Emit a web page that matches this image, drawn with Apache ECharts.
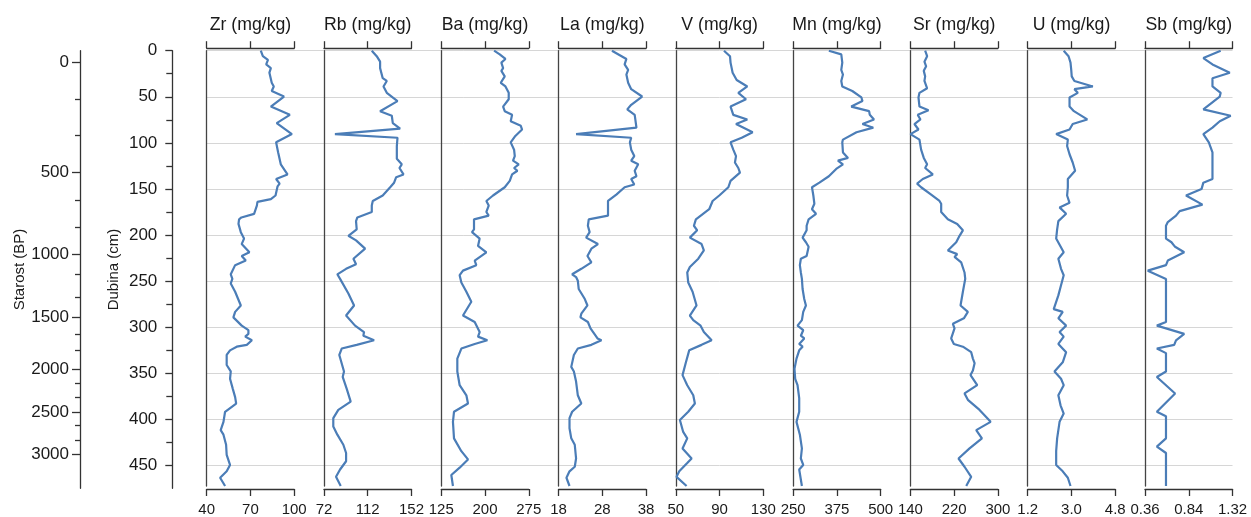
<!DOCTYPE html>
<html><head><meta charset="utf-8">
<script src="https://cdn.jsdelivr.net/npm/echarts@6/dist/echarts.min.js"></script>
<style>html,body{margin:0;padding:0;background:#fff}#c{width:1251px;height:517px}</style>
</head><body><div id="c"></div>
<script>
// ---- data ----
const elements = ['Zr','Rb','Ba','La','V','Mn','Sr','U','Sb'];
const axisTicks = [[40,70,100],[72,112,152],[125,200,275],[18,28,38],[50,90,130],[250,375,500],[140,220,300],[1.2,3.0,4.8],[0.36,0.84,1.32]];
const tickLabels = [['40','70','100'],['72','112','152'],['125','200','275'],['18','28','38'],['50','90','130'],['250','375','500'],['140','220','300'],['1.2','3.0','4.8'],['0.36','0.84','1.32']];
const depthLabels = [0,50,100,150,200,250,300,350,400,450];
const depthMinor = [25,75,125,175,225,275,325,375,425];
const ageLabels = ['0','500','1000','1500','2000','2500','3000'];
const ageDepths = [12.6,132,220.8,288.9,345.7,392.1,438];
const ageMinorDepths = [52.5,92.3,162.2,191.8,242.5,267.8,307.7,325,360.6,375.8,406.5,422.8];

const zrDepth = [0,6,10,15,19,24,35,39,44,50,61,70,79,91,100,111,124,135,140,145,148,158,162,165,169,178,182,184,189,198,205,211,220,224,229,234,244,249,254,263,278,285,291,300,305,309,312,316,321,323,327,332,343,350,358,369,378,385,394,405,414,419,430,441,452,459,466,475];
const zrValue = [77.1,78.5,82,80.8,84,83,84.6,86,84.6,93,84,97,88,98.4,87.6,89,90.8,95.4,87.6,90,88.6,87.2,84,74.8,74.4,72.5,63.8,62.2,61.8,63.4,65.6,64,69.3,64,66.8,59.5,56.5,57.6,56.5,59.5,63.4,59.5,58.3,64,68.6,68.6,66.4,71,67.5,60.6,56,53.7,53.7,56.5,56,57.9,59.5,60.2,52.6,51.5,49.6,51.5,53.3,53.7,56,53.7,49.2,52.6];
const rbDepth = [0,6,12,19,30,33,39,46,55,66,71,79,85,91,95,104,118,124,128,135,138,144,149,158,164,169,176,182,186,195,202,207,216,227,233,238,244,249,265,278,289,300,307,311,316,321,325,332,350,356,369,383,392,401,410,419,430,439,448,457,465,475];
const rbValue = [115.7,120.2,123.3,123.3,125.7,129.4,126.4,129.4,139.2,123.3,134,134.9,141.6,82,139.2,138.6,138.6,143.1,141,144.7,138,136.1,132.5,125.7,116.6,115.7,115.7,102.5,101.3,101.9,94.3,101.3,109.6,98.9,101.3,92.2,84.2,86.7,94.3,99.5,92.2,100.4,108.6,108,117.8,101.9,88.2,86,90.3,89.1,92.8,96.4,85.1,80.5,80.5,84.2,89.7,92.2,92.2,86.7,83,87.3];
const baDepth = [0,4,9,13,19,22,28,35,39,46,53,61,66,70,77,82,86,93,100,108,115,120,124,128,131,135,142,149,158,164,169,176,180,184,195,198,205,213,220,229,234,240,245,253,263,274,289,296,307,312,316,320,325,336,350,365,376,385,394,405,423,437,446,455,463,475];
const baValue = [215.5,225.2,235,228,231,228,233.8,227,235,240.6,240.6,231,233.8,246.4,244,261.3,263.5,252,244,249.8,251,248,257.8,249.8,255.5,246.4,242.4,233.8,213.7,202.3,206.3,202.3,206.3,181.1,181.1,177.7,190.8,188,202.3,182.3,185,162.2,156.5,159.4,168,176.5,162.2,182.3,190.8,188,204,182.3,159.4,152.5,152.5,156.5,168,170.8,146.8,145,146.8,159.4,170.8,156.5,142.2,145];
const laDepth = [0,6,9,15,21,26,35,42,50,59,64,70,84,91,95,100,108,115,120,124,131,137,140,146,149,157,164,171,180,184,191,198,204,211,216,224,231,238,244,247,251,260,271,278,287,291,296,303,314,316,321,325,332,345,350,361,376,385,394,401,412,423,430,445,454,459,466,475];
const laValue = [30.2,32.4,33.5,33.1,33.9,33.5,33.9,34.6,37.1,34.6,33.7,35.4,35.8,22,34.6,34.3,34.6,35.3,34.6,36.2,35.4,35.8,34.6,35.3,33.1,31.2,29.3,29.3,29.3,24.9,24.7,25.1,24.3,27,25.5,24.6,25.5,23.2,21.1,22,22.4,22.6,24,24.6,23.2,23,24.7,25.3,26.9,27.8,25.5,22.4,21.5,20.9,21.5,22,22.4,23.2,21.1,20.5,20.5,20.9,21.7,22,21.7,20.5,19.8,20.5];
const vDepth = [0,6,13,24,32,39,46,53,61,70,75,80,89,95,100,108,115,122,128,133,142,149,158,164,173,184,191,196,204,211,218,227,236,242,253,263,278,289,294,300,307,316,321,327,340,354,365,376,385,394,403,416,423,434,445,450,459,465,475];
const vValue = [94,99.5,100,101.9,105.6,115.3,107.1,114.1,100,102.5,115.3,105,120.2,110.2,100,102.5,105,104,107.1,108.6,100,98,89.7,83.6,80.5,68.3,66.5,69.5,62.8,73.5,75.6,70.5,62.8,60.4,61.3,65.3,68.9,62.8,65.9,72.6,75.6,82.7,73.5,62.2,59.2,56.1,60.4,65.9,67.4,61.3,53.7,56.7,60.4,56.1,64.4,60.4,53.1,50.6,59.8];
const mnDepth = [0,4,13,21,26,33,39,44,51,55,61,66,70,75,80,84,89,97,100,111,117,120,124,129,137,144,149,158,167,173,178,184,191,196,204,209,214,224,227,234,242,249,260,271,278,285,294,300,305,311,314,320,323,327,336,347,358,365,379,394,405,419,434,445,452,457,475];
const mnValue = [352,387.5,390.4,387.5,392.3,387.5,390.4,419,445,448,416,467,469,481,448,479,431,392.3,390.4,392.3,406.7,377.9,392.3,373,352,325,303.8,307.7,310.6,303.8,315.4,294.2,288.5,288.5,277,286.5,294.2,288.5,272,269.2,272,275,277,281.7,286.5,278.8,275,262.5,278.8,272,281.7,267.3,277,267.3,259.6,253.8,255.8,262.5,267.3,267.3,259.6,269.2,275,272,278.8,267.3,275];
const srDepth = [0,6,12,17,22,28,33,41,46,51,61,65,70,75,80,86,91,97,108,117,124,128,135,140,145,149,157,164,167,176,184,189,196,202,209,218,222,225,231,242,249,263,278,285,292,298,303,314,320,323,329,336,341,349,354,365,374,381,392,405,414,423,434,445,454,465,475];
const srValue = [166.9,170.5,165.6,168.7,164.4,166.9,165.6,170.5,156.5,154.7,156.5,173,153.4,158.3,147.3,154.7,140,156.5,159.5,164.4,170.5,166.9,180.9,162.6,152.2,159.5,177.9,193.1,196.2,196.2,208.4,225.5,235.9,229.8,223.7,208.4,225.5,220.6,232.8,238.9,240.2,235.9,231.6,245,237.7,217.6,220.6,214.5,219.4,235.9,251.1,254.2,257.3,254.2,249.9,262.1,238.9,245,266.4,286.6,260.3,270.7,248.1,227.9,238.9,251.1,242];
const uDepth = [0,6,13,21,28,33,39,42,46,51,61,66,75,80,86,91,97,104,113,122,131,140,149,158,166,171,178,186,195,205,220,227,238,245,256,267,282,285,292,300,307,312,320,329,340,350,358,365,376,387,396,405,423,437,452,459,466,475];
const uValue = [2.68,2.88,2.96,2.99,3.01,3.12,3.88,3.12,3.26,2.92,2.92,3.10,3.65,3.05,2.92,2.37,2.85,2.82,2.92,3.05,3.15,2.85,2.85,2.82,2.92,2.51,2.78,2.46,2.41,2.37,2.68,2.46,2.57,2.68,2.57,2.46,2.27,2.64,2.46,2.78,2.51,2.68,2.46,2.78,2.64,2.30,2.57,2.68,2.46,2.55,2.68,2.51,2.41,2.37,2.37,2.64,2.85,2.96];
const sbDepth = [0,8,15,24,30,39,46,50,64,71,77,84,91,100,111,140,144,151,158,168,175,180,187,191,205,209,214,220,229,234,240,249,296,300,309,316,321,325,330,350,356,374,394,399,423,432,439,475];
const sbValue = [1.19,1.00,1.10,1.29,1.10,1.10,1.19,1.18,1.00,1.30,1.18,1.10,1.00,1.06,1.10,1.10,1.00,0.98,0.81,0.99,0.74,0.70,0.61,0.59,0.59,0.65,0.69,0.79,0.61,0.59,0.39,0.59,0.59,0.49,0.79,0.70,0.68,0.49,0.59,0.59,0.49,0.69,0.49,0.59,0.59,0.49,0.59,0.59];

const depthSets = [zrDepth, rbDepth, baDepth, laDepth, vDepth, mnDepth, srDepth, uDepth, sbDepth];
const valueSets = [zrValue, rbValue, baValue, laValue, vValue, mnValue, srValue, uValue, sbValue];

// ---- layout / style ----
const FONT = "'Liberation Sans', Arial, sans-serif";
const TOP = 50.7, BOTTOM_Y = 488.3, DMAX = 475;
const PLOT_H = BOTTOM_Y - TOP;
const X0 = 206.7, STEP = 117.29, PW = 87.5;
const LINE_COLOR = '#4b7db7';
const TXT = '#1a1a1a';
const AX = '#333';

function nearestLabel(vals, labels, v) {
  let best = 0;
  for (let i = 1; i < vals.length; i++) if (Math.abs(vals[i]-v) < Math.abs(vals[best]-v)) best = i;
  return labels[best];
}

const FULL_W = 8*STEP + PW;
const grids = [
  {left: X0, top: TOP, width: FULL_W, height: PLOT_H, containLabel: false},
  {left: X0, top: TOP, width: FULL_W, height: PLOT_H * 450 / DMAX, containLabel: false},
  {left: 172.3, top: TOP, width: 10, height: PLOT_H, containLabel: false},
  {left: 80, top: TOP, width: 10, height: PLOT_H, containLabel: false}
];
const xAxes = [
  {gridIndex: 0, type: 'value', show: false, min: 0, max: 1},
  {gridIndex: 1, type: 'value', show: false, min: 0, max: 1},
  {gridIndex: 2, type: 'value', show: false, min: 0, max: 1},
  {gridIndex: 3, type: 'value', show: false, min: 0, max: 1}
];
const yAxes = [
  // gridlines
  {gridIndex: 1, type: 'value', inverse: true, min: 0, max: 450, interval: 50,
   axisLine: {show: false}, axisTick: {show: false}, axisLabel: {show: false},
   splitLine: {show: true, lineStyle: {color: '#d6d6d6', width: 1}}},
  // depth axis (major)
  {gridIndex: 2, type: 'value', inverse: true, min: 0, max: DMAX, position: 'left',
   name: 'Dubina (cm)', nameLocation: 'middle', nameRotate: 90, nameGap: 51,
   nameTextStyle: {fontFamily: FONT, fontSize: 15, color: TXT},
   axisLine: {show: true, onZero: false, lineStyle: {color: AX, width: 1.3}},
   axisTick: {show: true, length: 7, customValues: depthLabels, lineStyle: {color: AX, width: 1.3}},
   axisLabel: {show: true, customValues: depthLabels, margin: 15, fontFamily: FONT, fontSize: 17, color: TXT},
   splitLine: {show: false}},
  // depth axis (minor)
  {gridIndex: 2, type: 'value', inverse: true, min: 0, max: DMAX, position: 'right', offset: -10,
   axisLine: {show: false, onZero: false}, axisLabel: {show: false}, splitLine: {show: false},
   axisTick: {show: true, inside: true, length: 6, customValues: depthMinor, lineStyle: {color: AX, width: 1.3}}},
  // age axis (major)
  {gridIndex: 3, type: 'value', inverse: true, min: 0, max: DMAX, position: 'left',
   name: 'Starost (BP)', nameLocation: 'middle', nameRotate: 90, nameGap: 51,
   nameTextStyle: {fontFamily: FONT, fontSize: 15, color: TXT},
   axisLine: {show: true, onZero: false, lineStyle: {color: AX, width: 1.3}},
   axisTick: {show: true, length: 8, customValues: ageDepths, lineStyle: {color: AX, width: 1.3}},
   axisLabel: {show: true, customValues: ageDepths, margin: 11, fontFamily: FONT, fontSize: 17, color: TXT,
     formatter: v => nearestLabel(ageDepths, ageLabels, v)},
   splitLine: {show: false}},
  // age axis (minor)
  {gridIndex: 3, type: 'value', inverse: true, min: 0, max: DMAX, position: 'right', offset: -10,
   axisLine: {show: false, onZero: false}, axisLabel: {show: false}, splitLine: {show: false},
   axisTick: {show: true, inside: true, length: 5, customValues: ageMinorDepths, lineStyle: {color: AX, width: 1.3}}}
];
const series = [];
elements.forEach((el, i) => {
  const g = grids.length;
  grids.push({left: X0 + i*STEP, top: TOP, width: PW, height: PLOT_H, containLabel: false});
  const t = axisTicks[i];
  const bx = xAxes.length;
  xAxes.push({gridIndex: g, type: 'value', position: 'bottom', min: t[0], max: t[2], offset: 3,
    axisLine: {show: true, onZero: false, lineStyle: {color: AX, width: 1.3}},
    axisTick: {show: true, length: 7, customValues: t, lineStyle: {color: AX, width: 1.3}},
    axisLabel: {show: true, customValues: t, margin: 13, fontFamily: FONT, fontSize: 15, color: TXT,
      formatter: v => nearestLabel(t, tickLabels[i], v)},
    splitLine: {show: false}});
  xAxes.push({gridIndex: g, type: 'value', position: 'top', min: t[0], max: t[2], offset: 2.5,
    name: el + ' (mg/kg)', nameLocation: 'middle', nameGap: 14,
    nameTextStyle: {fontFamily: FONT, fontSize: 17.7, color: TXT},
    axisLine: {show: true, onZero: false, lineStyle: {color: AX, width: 1.3}},
    axisTick: {show: true, length: 7, customValues: t, lineStyle: {color: AX, width: 1.3}},
    axisLabel: {show: false}, splitLine: {show: false}});
  const yi = yAxes.length;
  yAxes.push({gridIndex: g, type: 'value', inverse: true, min: 0, max: DMAX, position: 'left',
    axisLine: {show: true, onZero: false, lineStyle: {color: '#444', width: 1.3}},
    axisTick: {show: false}, axisLabel: {show: false}, splitLine: {show: false}});
  const d = depthSets[i], v = valueSets[i];
  series.push({type: 'line', xAxisIndex: bx, yAxisIndex: yi, showSymbol: false, symbol: 'none',
    data: d.map((dep, k) => [v[k], dep]), lineStyle: {color: LINE_COLOR, width: 2.2}, silent: true, z: 3});
});

const chart = echarts.init(document.getElementById('c'), null, {renderer: 'canvas'});
chart.setOption({
  animation: false,
  backgroundColor: '#fff',
  grid: grids, xAxis: xAxes, yAxis: yAxes, series: series
});
</script></body></html>
